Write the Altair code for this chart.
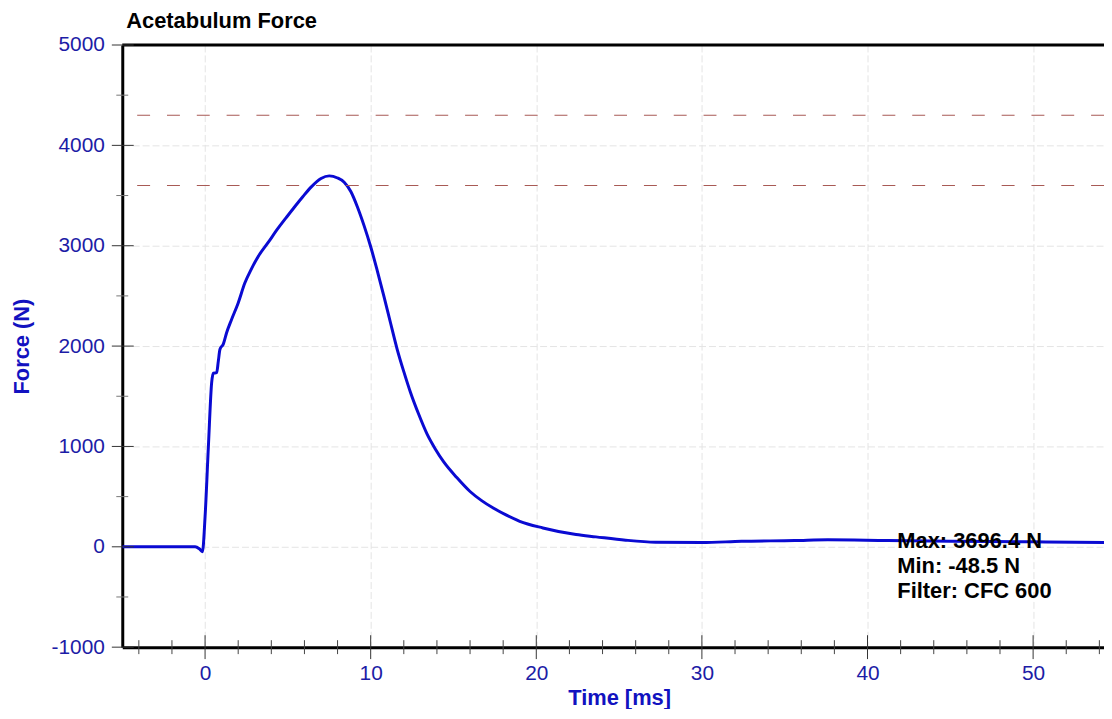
import altair as alt
import pandas as pd

# ---- data ----
time_ms = [-5, -0.6, -0.35, -0.16, 0.0, 0.2, 0.4, 0.5, 0.7, 0.8, 0.9, 1.1, 1.3, 1.6,
           2.0, 2.4, 2.8, 3.2, 3.8, 4.4, 4.9, 5.4, 5.9, 6.4, 7.0, 7.5, 8.0, 8.4, 8.8, 9.2, 9.6,
           10.0, 10.4, 10.8, 11.2, 11.6, 12.0, 12.4, 12.9, 13.4, 13.9, 14.4, 15.2, 16.0, 16.7,
           17.4, 18.2, 19.0, 20.4, 22.4, 23.6, 25.4, 27.2, 30.0, 32.4, 35.6, 37.6, 41.2,
           45.0, 50.0, 54.3]
force_n = [0, 0, -20, -48.5, 300, 1000, 1640, 1730, 1735, 1850, 1968, 2020, 2133, 2265,
           2430, 2628, 2770, 2891, 3030, 3172, 3280, 3386, 3488, 3584, 3670, 3696, 3675, 3633,
           3540, 3386, 3200, 2990, 2750, 2496, 2230, 1968, 1745, 1540, 1320, 1125, 975, 848,
           690, 551, 460, 386, 315, 254, 188, 122, 99, 66, 46, 42, 55, 62, 70, 62,
           55, 50, 42]
ref_levels = [4300, 3600]
x_major = [0, 10, 20, 30, 40, 50]
x_minor = [-4, -2, 2, 4, 6, 8, 12, 14, 16, 18, 22, 24, 26, 28, 32, 34, 36, 38,
           42, 44, 46, 48, 52, 54]
y_major = [-1000, 0, 1000, 2000, 3000, 4000, 5000]
y_minor = [-500, 500, 1500, 2500, 3500, 4500]
stats_lines = ["Max: 3696.4 N", "Min: -48.5 N", "Filter: CFC 600"]
chart_title = "Acetabulum Force"

# ---- styling ----
W, H = 988, 606
FONT = "Liberation Sans"
LBL = "#1c1ca6"
TTL = "#1212c0"
LINE = "#0a0ad2"
GRID = "#e4e4e4"

xs = alt.Scale(domain=[-5, 54.28], nice=False, zero=False)
ys = alt.Scale(domain=[-1000, 5000], nice=False, zero=False)

x_axis = alt.Axis(
    values=x_major, title="Time [ms]", ticks=False, grid=True,
    gridColor=GRID, gridDash=[7, 3], gridWidth=1,
    domainColor="black", domainWidth=3, labelExpr="'' + datum.value",
    labelFont=FONT, labelFontSize=21, labelColor=LBL, labelPadding=16,
    titleFont=FONT, titleFontSize=22, titleFontWeight="bold", titleColor=TTL,
    titleX=500, titleY=58, titleBaseline="alphabetic", titleAlign="center")
y_axis = alt.Axis(
    values=y_major, title="Force (N)", ticks=False, grid=True,
    gridColor=GRID, gridDash=[7, 3], gridWidth=1,
    domainColor="black", domainWidth=3, labelExpr="'' + datum.value",
    labelFont=FONT, labelFontSize=21, labelColor=LBL, labelPadding=18,
    titleFont=FONT, titleFontSize=22, titleFontWeight="bold", titleColor=TTL,
    titleX=-94, titleY=H / 2, titleBaseline="alphabetic", titleAlign="center",
    titleAngle=270)

df = pd.DataFrame({"t": time_ms, "f": force_n})

line = alt.Chart(df).mark_line(color=LINE, strokeWidth=3, clip=True,
                               interpolate="monotone").encode(
    x=alt.X("t:Q", scale=xs, axis=x_axis),
    y=alt.Y("f:Q", scale=ys, axis=y_axis),
)

refs = alt.Chart(pd.DataFrame({"f": ref_levels})).mark_rule(
    color="#a85a55", strokeWidth=1.2, strokeDash=[13, 17]).encode(
    y=alt.Y("f:Q", scale=ys, axis=y_axis))

top_border = alt.Chart(pd.DataFrame({"f": [5000]})).mark_rule(
    color="black", strokeWidth=3).encode(
    y=alt.Y("f:Q", scale=ys, axis=y_axis), x=alt.value(0), x2=alt.value(W))

xmaj = alt.Chart(pd.DataFrame({"t": x_major})).mark_rule(color="#333333", strokeWidth=1).encode(
    x=alt.X("t:Q", scale=xs, axis=x_axis), y=alt.value(H - 12), y2=alt.value(H + 12))
xmin = alt.Chart(pd.DataFrame({"t": x_minor})).mark_rule(color="#444444", strokeWidth=1).encode(
    x=alt.X("t:Q", scale=xs, axis=x_axis), y=alt.value(H - 7), y2=alt.value(H + 7))
ymaj = alt.Chart(pd.DataFrame({"f": y_major})).mark_rule(color="#333333", strokeWidth=1).encode(
    y=alt.Y("f:Q", scale=ys, axis=y_axis), x=alt.value(-10.5), x2=alt.value(11.5))
ymin = alt.Chart(pd.DataFrame({"f": y_minor})).mark_rule(color="#777777", strokeWidth=1).encode(
    y=alt.Y("f:Q", scale=ys, axis=y_axis), x=alt.value(-6), x2=alt.value(6))

title_txt = alt.Chart(pd.DataFrame({"s": [chart_title]})).mark_text(
    font=FONT, fontSize=22, fontWeight="bold", color="black",
    align="left", baseline="alphabetic").encode(
    text="s:N", x=alt.value(4), y=alt.value(-17.5))

stats_txt = alt.Chart(pd.DataFrame({"s": ["\n".join(stats_lines)]})).mark_text(
    font=FONT, fontSize=22, fontWeight="bold", color="black",
    align="left", baseline="alphabetic", lineBreak="\n", lineHeight=25).encode(
    text="s:N", x=alt.value(780), y=alt.value(506.5))

chart = alt.layer(line, refs, top_border, xmaj, xmin, ymaj, ymin, title_txt, stats_txt).properties(
    width=W, height=H,
    autosize=alt.AutoSizeParams(type="none"),
    padding={"left": 115, "top": 35, "right": 0, "bottom": 60},
    background="white",
).configure_view(stroke=None)

chart.save("out.html", embed_options={"renderer": "svg", "actions": False})
